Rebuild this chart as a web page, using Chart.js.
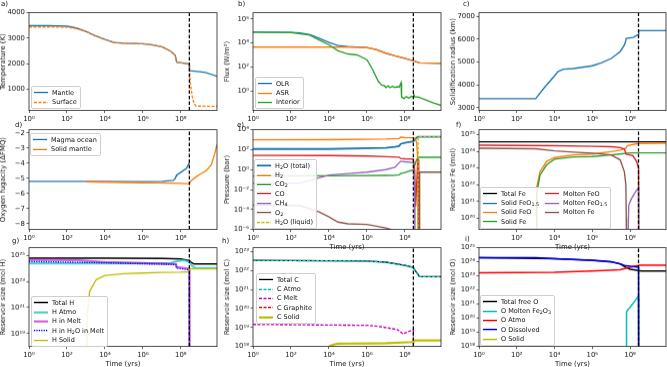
<!DOCTYPE html>
<html>
<head>
<meta charset="utf-8">
<script src="https://cdn.jsdelivr.net/npm/chart.js@4.4.0/dist/chart.umd.min.js"></script>
<style>
  body { margin: 0; background: #fff; }
  #fig { position: relative; width: 667px; height: 367px; overflow: hidden; font-family: "DejaVu Sans", sans-serif; color: #111; }
  .plabel { position: absolute; font-size: 7px; line-height: 8px; }
  .legend { position: absolute; z-index: 5; background: rgba(255,255,255,0.85); border: 0.7px solid #cfcfcf; border-radius: 2px;
            padding: 1px 3px 1px 2px; font-size: 6.5px; display: grid; grid-auto-flow: column; column-gap: 6px; }
  .legend .row { display: flex; align-items: center; white-space: nowrap; height: 9.4px; }
  .legend svg { margin-right: 4px; flex: none; }
  .legend sub { font-size: 4.8px; vertical-align: -1px; line-height: 0; }
</style>
</head>
<body>
<div id="fig"></div>
<script>
// ---- shared time axis values ----
const xMin = 1, xMax = 8e9;
const solidTime = 2.8e8;
const evenDecades = [1, 1e2, 1e4, 1e6, 1e8];

// a) temperature (K)
const mantleYears = [1, 10, 100, 300, 1e3, 3e3, 1e4, 3e4, 1e5, 1e6, 3e6, 1e7, 3e7, 5e7, 6e7, 2e8, 2.8e8, 2.85e8, 1e9, 2e9, 8e9];
const mantleTemp = [3490, 3490, 3470, 3400, 3270, 3100, 2950, 2830, 2800, 2780, 2740, 2660, 2480, 2330, 2060, 2000, 1980, 1720, 1680, 1650, 1500];
const surfaceYears = [1, 10, 100, 300, 1e3, 3e3, 1e4, 3e4, 1e5, 1e6, 3e6, 1e7, 3e7, 5e7, 6e7, 2e8, 2.8e8, 3.2e8, 4e8, 5e8, 6.5e8, 8e9];
const surfaceTemp = [3440, 3440, 3430, 3380, 3260, 3100, 2950, 2830, 2800, 2780, 2740, 2660, 2480, 2330, 2060, 2000, 1980, 1200, 700, 420, 330, 320];

// b) flux (W/m2)
const olrYears = [1, 100, 300, 1e3, 3e3, 1e4, 3e4, 1e5, 3e5, 1e6, 3e6, 1e7, 3e7, 1e8, 2.8e8, 6e8, 8e9];
const olrFlux = [8e4, 7.6e4, 7e4, 5e4, 2.5e4, 1.1e4, 6.2e3, 5e3, 4.6e3, 4.2e3, 2.8e3, 1.4e3, 850, 525, 316, 215, 200];
const asrYears = [1, 1e5, 1e6, 3e6, 1e7, 3e7, 1e8, 2.8e8, 6e8, 8e9];
const asrFlux = [4.5e3, 4.5e3, 4.1e3, 2.8e3, 1.4e3, 850, 525, 316, 215, 200];
const interiorYears = [1, 100, 1e3, 3e3, 1e4, 3e4, 1e5, 3e5, 1e6, 2e6, 4e6, 6e6, 8e6, 1e7, 1.3e7, 1.7e7, 2.2e7, 3e7, 4e7, 5e7, 6.3e7, 6.6e7, 6.8e7, 9e7, 1.2e8, 1.6e8, 2.2e8, 2.7e8, 2.9e8, 3.3e8, 5e8, 1e9, 3e9, 8e9];
const interiorFlux = [8e4, 7.5e4, 4.5e4, 1.8e4, 7e3, 2.2e3, 1.2e3, 1e3, 400, 60, 6, 3, 2.8, 1.9, 2.6, 1.8, 2.4, 1.9, 2.2, 2.0, 4.8, 0.25, 0.32, 0.22, 0.33, 0.24, 0.35, 0.3, 0.55, 0.32, 0.3, 0.2, 0.1, 0.06];

// c) solidification radius (km)
const radiusYears = [1, 1e3, 3e3, 1e4, 1.5e4, 3e4, 1e5, 1e6, 3e6, 1e7, 3e7, 5e7, 6e7, 6.3e7, 1.5e8, 2.5e8, 2.8e8, 2.85e8, 8e9];
const radiusKm = [3400, 3400, 3900, 4400, 4580, 4690, 4720, 4840, 4970, 5160, 5460, 5750, 5950, 6040, 6080, 6190, 6200, 6380, 6380];

// d) oxygen fugacity (dFMQ)
const magmaYears = [1, 1e3, 1e6, 1e7, 4e7, 5e7, 5.6e7, 6e7, 1e8, 2e8, 2.8e8];
const magmaFO2 = [-5.2, -5.2, -5.21, -5.2, -5.13, -5.02, -4.85, -4.78, -4.6, -4.33, -3.95];
const solidYears = [1e3, 1e5, 1e6, 1e7, 1e8, 2.8e8, 3.5e8, 6.3e8, 1.2e9, 2.1e9, 4e9, 6e9, 8e9];
const solidFO2 = [-5.22, -5.27, -5.29, -5.3, -5.33, -5.36, -5.15, -4.9, -4.67, -4.5, -4.1, -3.4, -2.75];

// e) pressure (bar)
const h2oYears = [1, 1e4, 1e7, 3e7, 5e7, 6e7, 1e8, 2.8e8, 4e8, 5e8, 8e9];
const h2oTotal = [117, 117, 150, 190, 230, 380, 480, 700, 1500, 1950, 1950];
const h2Years = [1, 1e4, 1e7, 5e7, 6e7, 1e8, 2.8e8, 3.5e8, 4.2e8, 4.6e8, 5e8];
const h2Bar = [980, 1000, 1150, 1300, 1800, 1600, 1550, 1200, 500, 30, 1e-8];
const co2Years = [1, 1e4, 1e7, 3e7, 5e7, 6e7, 1e8, 2.8e8, 4e8, 5e8, 8e9];
const co2Bar = [0.23, 0.24, 0.26, 0.27, 0.3, 0.4, 0.5, 0.95, 8, 17, 17];
const coYears = [1, 1e4, 1e6, 1e7, 5e7, 6e7, 1e8, 2.8e8, 3.3e8, 3.7e8, 4.3e8, 4.8e8, 5.2e8, 5.4e8];
const coBar = [27, 26, 23, 20, 18, 13, 12, 11.5, 1, 2e-4, 0.1, 10, 10, 1e-8];
const ch4Years = [1, 300, 3e3, 1e4, 1e5, 1e6, 1e7, 3e7, 6e7, 1e8, 2.8e8, 3.2e8, 3.4e8];
const ch4Bar = [0.043, 0.045, 0.15, 0.29, 0.4, 0.55, 1.0, 1.7, 7, 6, 5, 0.05, 1e-8];
const o2Years = [1, 300, 3e3, 1e4, 3e4, 1e5, 1e6, 1e7, 3e7, 1e8, 5.9e8, 6e8, 8e9];
const o2Bar = [2.7e-4, 2.5e-4, 5.7e-5, 1.8e-5, 5.5e-6, 3.7e-6, 3.2e-6, 1.4e-6, 8e-7, 3e-7, 1e-8, 0.55, 0.55];
const h2oLiqYears = [4.9e8, 5e8, 8e9];
const h2oLiquid = [1e-8, 1950, 1950];

// f) iron reservoirs (mol)
const totalFeYears = [1, 8e9];
const totalFe = [3.8e24, 3.8e24];
const solidFeO15Years = [];
const solidFeO15 = [];
const solidFeOYears = [1.1e3, 1.15e3, 1.7e3, 3.8e3, 1e4, 1e5, 1e6, 1e7, 3e7, 6e7, 7e7, 2.8e8, 8e9];
const solidFeO = [1e18, 7.4e21, 6e22, 2.5e23, 4.3e23, 6.2e23, 7e23, 9.8e23, 1.2e24, 1.55e24, 2.2e24, 3e24, 3.1e24];
const solidFeYears = [1.1e3, 1.15e3, 1.7e3, 3.8e3, 1e4, 1e5, 1e6, 1e7, 3e7, 1e8, 2.8e8, 8e9];
const solidFe = [1e18, 3e21, 3.8e22, 1.55e23, 3.4e23, 4.7e23, 4.9e23, 6.2e23, 7e23, 8.1e23, 8.2e23, 8.2e23];
const moltenFeOYears = [1, 1e4, 1e6, 1e7, 3e7, 5e7, 6.2e7, 1.4e8, 2.2e8, 2.8e8, 2.85e8];
const moltenFeO = [2.35e24, 2.2e24, 2e24, 1.9e24, 1.7e24, 1.4e24, 6.8e23, 5.6e23, 2.5e23, 1e23, 1e18];
const moltenFeO15Years = [7.6e7, 8.5e7, 1.2e8, 2e8, 2.8e8, 2.85e8];
const moltenFeO15 = [1e18, 5.9e20, 1.5e21, 4e21, 6.5e21, 1e18];
const moltenFeYears = [1, 1e3, 1e4, 1e5, 1e6, 1e7, 3e7, 5e7, 6e7, 6.3e7, 6.5e7];
const moltenFe = [1.55e24, 1.45e24, 1.07e24, 9e23, 7.8e23, 6.2e23, 3.1e23, 6e22, 1e22, 1e20, 1e18];

// g) hydrogen reservoirs (mol H)
const totalHYears = [1, 1e4, 1e7, 1e8, 2.8e8, 3.5e8, 5e8, 8e9];
const totalH = [6.3e24, 6.2e24, 6e24, 5.4e24, 4.1e24, 3e24, 2.2e24, 2.2e24];
const hAtmoYears = [1, 1e6, 3e7, 5.6e7, 1.5e8, 2.8e8, 4e8, 6e8, 8e9];
const hAtmo = [2.5e24, 2.5e24, 2.6e24, 3.5e24, 4.4e24, 3.1e24, 1.5e24, 1.07e24, 1.07e24];
const hMeltYears = [1, 300, 1e4, 1e6, 3e7, 5.5e7, 6e7, 2.8e8, 2.85e8];
const hMelt = [4.7e24, 4.5e24, 3.1e24, 2.6e24, 2.2e24, 2.1e24, 1.3e24, 9.5e23, 1e17];
const hH2oMeltYears = [1, 1e4, 1e6, 3e7, 5.5e7, 6e7, 2.8e8, 2.85e8];
const hH2oMelt = [3.5e24, 2.75e24, 2.3e24, 2.1e24, 2e24, 1.07e24, 7.9e23, 1e17];
const hSolidYears = [1.1e3, 1.15e3, 1.55e3, 3.5e3, 1e4, 1e5, 1e6, 1e7, 1e8, 2.8e8, 2.85e8, 8e9];
const hSolid = [1e17, 1.6e20, 1.7e22, 1.4e23, 2.95e23, 4e23, 4.5e23, 5e23, 5.2e23, 5.6e23, 9.5e23, 9.5e23];

// h) carbon reservoirs (mol C)
const totalCYears = [1, 1e6, 1e7, 1e8, 2.8e8, 3.5e8, 6e8, 8e9];
const totalC = [3.5e22, 3.2e22, 2.8e22, 1.9e22, 1.5e22, 1e22, 4.8e21, 4.8e21];
const cAtmo = [3.5e22, 3.2e22, 2.8e22, 1.9e22, 1.5e22, 1e22, 4.8e21, 4.8e21];
const cMeltYears = [1, 1e6, 3e6, 4e7, 8e7, 1.2e8, 2.8e8, 2.85e8];
const cMelt = [1.45e19, 1.3e19, 1.2e19, 7.8e18, 4.6e18, 5.6e18, 7.7e18, 1e17];
const cGraphiteYears = [];
const cGraphite = [];
const cSolidYears = [1e4, 1.3e4, 2e4, 3e4, 1e5, 1e6, 1e7, 2.8e8, 2.85e8, 8e9];
const cSolid = [1e18, 1.15e18, 1.3e18, 1.38e18, 1.42e18, 1.45e18, 1.5e18, 1.7e18, 2.1e18, 2.1e18];

// i) oxygen reservoirs (mol O)
const totalOYears = [1, 1e4, 1e6, 1e7, 3e7, 6e7, 1e8, 2.8e8, 4e8, 8e9];
const totalO = [2e24, 1.7e24, 1.3e24, 1.02e24, 7e23, 4e23, 3e23, 2.4e23, 2.2e23, 2.2e23];
const oFe2O3Years = [6.3e7, 6.5e7, 1e8, 2e8, 2.8e8, 2.85e8];
const oFe2O3 = [1e17, 3e20, 6e20, 2e21, 4e21, 1e17];
const oAtmoYears = [1, 1e4, 1e6, 3e7, 1e8, 2.8e8, 3e8, 8e9];
const oAtmo = [1.7e23, 1.8e23, 2.2e23, 2.7e23, 4.2e23, 5.5e23, 5.8e23, 5.8e23];
const oDissolvedYears = [1, 1e3, 1e4, 1e6, 1e7, 3e7, 6e7, 1e8, 2.8e8, 2.85e8];
const oDissolved = [1.95e24, 1.95e24, 1.65e24, 1.26e24, 1e24, 7.2e23, 5.2e23, 4.8e23, 4.2e23, 1e17];
const oSolidYears = [];
const oSolid = [];

// ---- drawing ----
const col = { blue: '#1f77b4', orange: '#ff7f0e', green: '#2ca02c', red: '#d62728', purple: '#9467bd', brown: '#8c564b',
              k: '#000000', c: '#00bfbf', m: '#bf00bf', b: '#0000ff', y: '#bfbf00', r: '#ff0000' };
const lw = 1.35;

Chart.defaults.font.family = '"DejaVu Sans", sans-serif';
Chart.defaults.font.size = 6.9;
Chart.defaults.color = '#111';

const supMap = { '0': '⁰', '1': '¹', '2': '²', '3': '³', '4': '⁴', '5': '⁵', '6': '⁶', '7': '⁷', '8': '⁸', '9': '⁹', '-': '⁻' };
const powLabel = v => '10' + String(Math.round(Math.log10(v))).split('').map(ch => supMap[ch]).join('');
const plain = s => s.replace(/\$_\{?([^$}]+)\}?\$/g, '$1');
const richLabel = s => s.replace(/\$_\{?([^$}]+)\}?\$/g, '<sub>$1</sub>');

const framePlugin = {
  id: 'frame',
  afterDatasetsDraw(chart) {
    const { ctx, chartArea: a } = chart;
    ctx.save();
    ctx.strokeStyle = '#222';
    ctx.lineWidth = 0.8;
    ctx.strokeRect(a.left, a.top, a.right - a.left, a.bottom - a.top);
    ctx.restore();
  }
};

function makePanel(cfg) {
  const [L, T, R, B] = cfg.box;
  const yW = 30, padTop = 4, padRight = 2;
  const xH = cfg.xTitle ? 22 : 13;
  const fig = document.getElementById('fig');
  const canvas = document.createElement('canvas');
  canvas.width = R - L + yW + padRight;
  canvas.height = B - T + padTop + xH;
  canvas.style.position = 'absolute';
  canvas.style.left = (L - yW) + 'px';
  canvas.style.top = (T - padTop) + 'px';
  fig.appendChild(canvas);

  const n = cfg.lines.length;
  const datasets = cfg.lines.map((s, i) => ({
    label: plain(s.label),
    data: s.years.map((x, j) => ({ x, y: s.values[j] })),
    borderColor: s.color,
    borderWidth: s.width || lw,
    borderDash: s.dash || [],
    pointRadius: 0,
    tension: 0,
    fill: false,
    order: n - i + 1
  }));
  datasets.push({
    label: 'solidification',
    data: [{ x: solidTime, y: cfg.yMin }, { x: solidTime, y: cfg.yMax }],
    borderColor: '#000', borderWidth: 1.3, borderDash: [3.5, 2], pointRadius: 0, order: 0
  });

  const isLog = cfg.yType === 'logarithmic';
  const tickFmt = v => isLog ? powLabel(v) : (v < 0 ? '\u2212' + Math.abs(v) : String(v));
  const gridOpts = { display: true, drawOnChartArea: false, drawTicks: true, tickLength: 2.5, color: '#222', lineWidth: 0.7 };

  const chart = new Chart(canvas, {
    type: 'line',
    data: { datasets },
    plugins: [framePlugin],
    options: {
      responsive: false,
      maintainAspectRatio: false,
      animation: false,
      layout: { padding: { top: padTop, right: padRight, left: 0, bottom: 0 } },
      plugins: { legend: { display: false }, tooltip: { enabled: false } },
      scales: {
        x: {
          type: 'logarithmic', min: xMin, max: xMax, bounds: 'data',
          afterBuildTicks: s => { s.ticks = (cfg.xTicks || evenDecades).map(value => ({ value })); },
          afterFit: s => { s.height = xH; },
          ticks: { callback: v => powLabel(v), autoSkip: false, maxRotation: 0, minRotation: 0, padding: 1.5, color: '#111' },
          grid: gridOpts, border: { display: false },
          title: { display: !!cfg.xTitle, text: 'Time (yrs)', padding: { top: 1.5, bottom: 0 }, color: '#111' }
        },
        y: {
          type: cfg.yType, min: cfg.yMin, max: cfg.yMax, bounds: 'data',
          afterBuildTicks: s => { s.ticks = cfg.yTicks.map(value => ({ value })); },
          afterFit: s => { s.width = yW; },
          ticks: { callback: tickFmt, autoSkip: false, padding: 1.5, color: '#111' },
          grid: gridOpts, border: { display: false },
          title: { display: true, text: cfg.yTitle, padding: { top: 0.5, bottom: 1 }, color: '#111' }
        }
      }
    }
  });

  // line the plot area up with the reference box
  let a = chart.chartArea;
  const dw = (R - L) - (a.right - a.left), dh = (B - T) - (a.bottom - a.top);
  if (Math.abs(dw) > 0.5 || Math.abs(dh) > 0.5) {
    chart.resize(canvas.width + dw, canvas.height + dh);
    a = chart.chartArea;
  }
  canvas.style.left = (L - a.left) + 'px';
  canvas.style.top = (T - a.top) + 'px';

  // panel letter
  const lab = document.createElement('div');
  lab.className = 'plabel';
  lab.textContent = cfg.tag;
  lab.style.left = cfg.tagPos[0] + 'px';
  lab.style.top = cfg.tagPos[1] + 'px';
  fig.appendChild(lab);

  // legend
  const lg = cfg.legend;
  if (!lg) return;
  const box = document.createElement('div');
  box.className = 'legend';
  box.style.left = lg.left + 'px';
  box.style.top = lg.top + 'px';
  const rows = lg.rows || n;
  box.style.gridTemplateRows = `repeat(${rows}, 9.4px)`;
  cfg.lines.forEach(s => {
    const row = document.createElement('div');
    row.className = 'row';
    const dash = (s.dash && s.dash.length) ? s.dash.join(',') : 'none';
    row.innerHTML = `<svg width="14" height="5"><line x1="0" y1="2.5" x2="14" y2="2.5" stroke="${s.color}" stroke-width="${s.width || lw}" stroke-dasharray="${dash}"/></svg><span>${richLabel(s.label)}</span>`;
    box.appendChild(row);
  });
  fig.appendChild(box);
}

const panels = [
  { tag: 'a)', tagPos: [1, 0], box: [29, 13, 217, 110], yType: 'linear', yMin: 156, yMax: 4000, yTicks: [1000, 2000, 3000, 4000],
    yTitle: 'Temperature (K)', legend: { left: 31, top: 86 },
    lines: [
      { label: 'Mantle', years: mantleYears, values: mantleTemp, color: col.blue },
      { label: 'Surface', years: surfaceYears, values: surfaceTemp, color: col.orange, dash: [3, 1.5] }
    ] },
  { tag: 'b)', tagPos: [238, 0], box: [253, 13, 441, 110], yType: 'logarithmic', yMin: Math.pow(10, -1.65), yMax: Math.pow(10, 6.53),
    yTicks: [1, 1e2, 1e4, 1e6], yTitle: 'Flux (W/m²)', legend: { left: 255, top: 77 },
    lines: [
      { label: 'OLR', years: olrYears, values: olrFlux, color: col.blue },
      { label: 'ASR', years: asrYears, values: asrFlux, color: col.orange },
      { label: 'Interior', years: interiorYears, values: interiorFlux, color: col.green }
    ] },
  { tag: 'c)', tagPos: [463, 0], box: [479, 13, 666, 110], yType: 'linear', yMin: 2881, yMax: 7163, yTicks: [3000, 4000, 5000, 6000, 7000],
    yTitle: 'Solidification radius (km)', legend: null,
    lines: [
      { label: 'Radius', years: radiusYears, values: radiusKm, color: col.blue }
    ] },
  { tag: 'd)', tagPos: [15, 121], box: [29, 130, 217, 229], yType: 'linear', yMin: -8.38, yMax: -1.78, yTicks: [-8, -7, -6, -5, -4, -3, -2],
    yTitle: 'Oxygen fugacity (ΔFMQ)', legend: { left: 30, top: 133 },
    lines: [
      { label: 'Magma ocean', years: magmaYears, values: magmaFO2, color: col.blue },
      { label: 'Solid mantle', years: solidYears, values: solidFO2, color: col.orange }
    ] },
  { tag: 'e)', tagPos: [237, 121], box: [253, 130, 441, 229], yType: 'logarithmic', yMin: 1e-6, yMax: 1e4,
    yTicks: [1e-6, 1e-4, 1e-2, 1, 1e2, 1e4], yTitle: 'Pressure (bar)', xTitle: true, legend: { left: 254, top: 159 },
    lines: [
      { label: 'H$_2$O (total)', years: h2oYears, values: h2oTotal, color: col.blue, width: 1.8 },
      { label: 'H$_2$', years: h2Years, values: h2Bar, color: col.orange },
      { label: 'CO$_2$', years: co2Years, values: co2Bar, color: col.green },
      { label: 'CO', years: coYears, values: coBar, color: col.red },
      { label: 'CH$_4$', years: ch4Years, values: ch4Bar, color: col.purple },
      { label: 'O$_2$', years: o2Years, values: o2Bar, color: col.brown },
      { label: 'H$_2$O (liquid)', years: h2oLiqYears, values: h2oLiquid, color: col.y, dash: [3, 1.5] }
    ] },
  { tag: 'f)', tagPos: [456, 121], box: [479, 130, 666, 229], yType: 'logarithmic', yMin: Math.pow(10, 19.32), yMax: Math.pow(10, 25.3),
    yTicks: [1e20, 1e21, 1e22, 1e23, 1e24, 1e25], yTitle: 'Reservoir Fe (mol)', xTitle: true, xTicks: [1e2, 1e4, 1e6, 1e8],
    legend: { left: 480, top: 187, rows: 4 },
    lines: [
      { label: 'Total Fe', years: totalFeYears, values: totalFe, color: col.k },
      { label: 'Solid FeO$_{1.5}$', years: solidFeO15Years, values: solidFeO15, color: col.blue },
      { label: 'Solid FeO', years: solidFeOYears, values: solidFeO, color: col.orange },
      { label: 'Solid Fe', years: solidFeYears, values: solidFe, color: col.green },
      { label: 'Molten FeO', years: moltenFeOYears, values: moltenFeO, color: col.red },
      { label: 'Molten FeO$_{1.5}$', years: moltenFeO15Years, values: moltenFeO15, color: col.purple },
      { label: 'Molten Fe', years: moltenFeYears, values: moltenFe, color: col.brown }
    ] },
  { tag: 'g)', tagPos: [12, 237], box: [29, 248, 217, 346], yType: 'logarithmic', yMin: 1e18, yMax: Math.pow(10, 25.6),
    yTicks: [1e19, 1e21, 1e23, 1e25], yTitle: 'Reservoir size (mol H)', xTitle: true, legend: { left: 31, top: 296 },
    lines: [
      { label: 'Total H', years: totalHYears, values: totalH, color: col.k, width: 1.5 },
      { label: 'H Atmo', years: hAtmoYears, values: hAtmo, color: 'rgba(0,191,191,0.7)', width: 2.2 },
      { label: 'H in Melt', years: hMeltYears, values: hMelt, color: 'rgba(191,0,191,0.6)', width: 2.2 },
      { label: 'H in H$_2$O in Melt', years: hH2oMeltYears, values: hH2oMelt, color: col.b, dash: [1.2, 1.2] },
      { label: 'H Solid', years: hSolidYears, values: hSolid, color: col.y }
    ] },
  { tag: 'h)', tagPos: [222, 237], box: [253, 248, 441, 346], yType: 'logarithmic', yMin: 1e18, yMax: Math.pow(10, 23.21),
    yTicks: [1e18, 1e19, 1e20, 1e21, 1e22, 1e23], yTitle: 'Reservoir size (mol C)', xTitle: true, legend: { left: 256, top: 273 },
    lines: [
      { label: 'Total C', years: totalCYears, values: totalC, color: col.k },
      { label: 'C Atmo', years: totalCYears, values: cAtmo, color: col.c, dash: [3, 1.5] },
      { label: 'C Melt', years: cMeltYears, values: cMelt, color: col.m, dash: [3, 1.5] },
      { label: 'C Graphite', years: cGraphiteYears, values: cGraphite, color: col.r, dash: [3, 1.5] },
      { label: 'C Solid', years: cSolidYears, values: cSolid, color: col.y, width: 2.2 }
    ] },
  { tag: 'i)', tagPos: [465, 235], box: [479, 248, 666, 346], yType: 'logarithmic', yMin: 1e18, yMax: 1e25,
    yTicks: [1e18, 1e19, 1e20, 1e21, 1e22, 1e23, 1e24, 1e25], yTitle: 'Reservoir size (mol O)', xTitle: true, legend: { left: 480, top: 295 },
    lines: [
      { label: 'Total free O', years: totalOYears, values: totalO, color: col.k, width: 1.5 },
      { label: 'O Molten Fe$_2$O$_3$', years: oFe2O3Years, values: oFe2O3, color: col.c, width: 1.5 },
      { label: 'O Atmo', years: oAtmoYears, values: oAtmo, color: col.r, width: 1.5 },
      { label: 'O Dissolved', years: oDissolvedYears, values: oDissolved, color: col.b, width: 1.5 },
      { label: 'O Solid', years: oSolidYears, values: oSolid, color: col.y, width: 1.5 }
    ] }
];

panels.forEach(makePanel);
</script>
</body>
</html>
